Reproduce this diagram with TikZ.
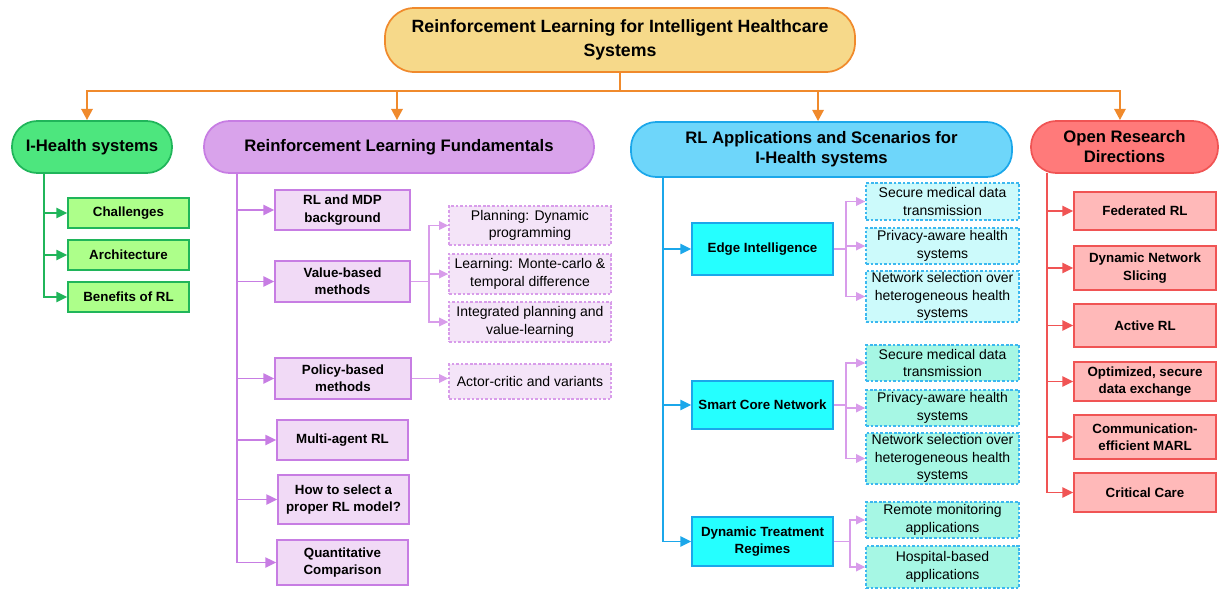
\documentclass[tikz,border=0pt]{standalone}
\usepackage{fontspec}
\setmainfont{Liberation Sans}
\usetikzlibrary{arrows.meta}
\definecolor{rootf}{HTML}{F6D98A}
\definecolor{orng}{HTML}{F08A2C}
\definecolor{ghf}{HTML}{4DE67E}
\definecolor{gdr}{HTML}{20B55A}
\definecolor{gbf}{HTML}{ADFF8A}
\definecolor{phf}{HTML}{D9A3EB}
\definecolor{pdr}{HTML}{C77DE3}
\definecolor{pbf}{HTML}{F1DAF6}
\definecolor{plf}{HTML}{F4E4F8}
\definecolor{pld}{HTML}{D89CEA}
\definecolor{bhf}{HTML}{6ED6FA}
\definecolor{bdr}{HTML}{1BA7EA}
\definecolor{bbf}{HTML}{25FFFF}
\definecolor{blf}{HTML}{CCFAFB}
\definecolor{bld}{HTML}{3BB8F0}
\definecolor{mlf}{HTML}{A6F7E4}
\definecolor{rhf}{HTML}{FF7A7A}
\definecolor{rdr}{HTML}{F05454}
\definecolor{rbf}{HTML}{FFB9B9}
\newcommand\bx[7]{\node[#1,minimum width={(#5-#3)*0.75pt},minimum height={(#6-#4)*0.75pt}] (#2) at ({(#3+#5)/2},{(#4+#6)/2}) {#7};}
\tikzset{
  hdr/.style={draw, line width=1.3pt, align=center, inner sep=0pt, font=\fontsize{12.5}{15}\selectfont\bfseries, rounded corners=19pt},
  bbox/.style={draw, line width=1.3pt, align=center, inner sep=0pt, font=\fontsize{10}{13}\selectfont\bfseries},
  leaf/.style={draw, line width=1pt, dash pattern=on 2pt off 1.4pt, align=center, inner sep=0pt, font=\fontsize{10.5}{13}\selectfont},
  oarr/.style={draw=orng, line width=1.8pt, -{Triangle[length=8.5pt,width=8.5pt]}},
  carr/.style={line width=1.4pt, -{Triangle[length=8pt,width=7.5pt]}},
  larr/.style={draw=pld, line width=1.1pt, -{Triangle[length=7pt,width=6.5pt]}},
}
\begin{document}
\begin{tikzpicture}[x=0.75pt,y=-0.75pt]
\useasboundingbox (0,0) rectangle (1220,589);
% root
\bx{hdr, fill=rootf, draw=orng, rounded corners=22pt, font=\fontsize{13.3}{18}\selectfont\bfseries}{root}{385}{8}{855}{72}{Reinforcement Learning for Intelligent Healthcare\\Systems}
% headers
\bx{hdr, fill=ghf, draw=gdr}{ih}{12}{121}{172}{173}{I-Health systems}
\bx{hdr, fill=phf, draw=pdr}{rlf}{204}{121}{594}{173}{Reinforcement Learning Fundamentals}
\bx{hdr, fill=bhf, draw=bdr}{app}{631}{122}{1012}{177}{RL Applications and Scenarios for\\I-Health systems}
\bx{hdr, fill=rhf, draw=rdr}{ord}{1031}{121}{1218}{173}{Open Research\\Directions}
% root connectors
\coordinate (rj) at (620,91);
\draw[oarr] (root.south) -- (rj) -| ([xshift=-3.75pt]ih.north);
\draw[oarr] (rj) -| ([xshift=-1.5pt]rlf.north);
\draw[oarr] (rj) -| ([xshift=-2.6pt]app.north);
\draw[oarr] (rj) -| ([xshift=-3.4pt]ord.north);
% green
\bx{bbox, fill=gbf, draw=gdr}{ch}{68}{198}{189}{228}{Challenges}
\bx{bbox, fill=gbf, draw=gdr}{ar}{68}{240}{189}{270}{Architecture}
\bx{bbox, fill=gbf, draw=gdr}{bf}{68}{282}{189}{312}{Benefits of RL}
\coordinate (gt) at (44,173);
\foreach \n in {ch,ar,bf} \draw[carr, draw=gdr] (gt) |- (\n.west);
% purple
\bx{bbox, fill=pbf, draw=pdr}{mdp}{275}{190}{410}{230}{RL and MDP\\background}
\bx{bbox, fill=pbf, draw=pdr}{vb}{275}{261}{410}{302}{Value-based\\methods}
\bx{bbox, fill=pbf, draw=pdr}{pb}{275}{358}{411}{399}{Policy-based\\methods}
\bx{bbox, fill=pbf, draw=pdr}{ma}{277}{420}{408}{460}{Multi-agent RL}
\bx{bbox, fill=pbf, draw=pdr}{hs}{278}{475}{409}{524}{How to select a\\proper RL model?}
\bx{bbox, fill=pbf, draw=pdr}{qc}{277}{540}{408}{585}{Quantitative\\Comparison}
\coordinate (pt) at (237,173);
\foreach \n in {mdp,vb,pb,ma,hs,qc} \draw[carr, draw=pdr] (pt) |- (\n.west);
\bx{leaf, fill=plf, draw=pld}{pl}{449}{206}{611}{245}{Planning: Dynamic\\programming}
\bx{leaf, fill=plf, draw=pld}{lm}{449}{254}{611}{294}{Learning: Monte-carlo \&\\temporal difference}
\bx{leaf, fill=plf, draw=pld}{ip}{449}{302}{611}{342}{Integrated planning and\\value-learning}
\bx{leaf, fill=plf, draw=pld}{ac}{449}{364}{611}{399}{Actor-critic and variants}
\coordinate (vj) at (429,281.5);
\draw[larr] (vb.east) -- (vj) |- (pl.west);
\draw[larr] (vj) |- (lm.west);
\draw[larr] (vj) |- (ip.west);
\draw[larr] (pb.east) -- (pb.east -| ac.west);
% blue
\bx{bbox, fill=bbf, draw=bdr}{ei}{692}{223}{833}{275}{Edge Intelligence}
\bx{bbox, fill=bbf, draw=bdr}{sc}{692}{381}{833}{429}{Smart Core Network}
\bx{bbox, fill=bbf, draw=bdr}{dt}{692}{517}{833}{566}{Dynamic Treatment\\Regimes}
\coordinate (bt) at (663,177);
\foreach \n in {ei,sc,dt} \draw[carr, draw=bdr] (bt) |- (\n.west);
\bx{leaf, fill=blf, draw=bld}{e1}{866}{183}{1019}{220}{Secure medical data\\transmission}
\bx{leaf, fill=blf, draw=bld}{e2}{866}{228}{1019}{264}{Privacy-aware health\\systems}
\bx{leaf, fill=blf, draw=bld}{e3}{866}{271}{1019}{322}{Network selection over\\heterogeneous health\\systems}
\bx{leaf, fill=mlf, draw=bld}{s1}{866}{345}{1019}{381}{Secure medical data\\transmission}
\bx{leaf, fill=mlf, draw=bld}{s2}{866}{390}{1019}{426}{Privacy-aware health\\systems}
\bx{leaf, fill=mlf, draw=bld}{s3}{866}{433}{1019}{484}{Network selection over\\heterogeneous health\\systems}
\bx{leaf, fill=mlf, draw=bld}{d1}{866}{502}{1019}{538}{Remote monitoring\\applications}
\bx{leaf, fill=mlf, draw=bld}{d2}{866}{546}{1019}{588}{Hospital-based\\applications}
\coordinate (ej) at (846,249);
\draw[larr] (ei.east) -- (ej) |- (e1.west);
\draw[larr] (ej) |- (e2.west);
\draw[larr] (ej) |- (e3.west);
\coordinate (sj) at (846,405);
\draw[larr] (sc.east) -- (sj) |- (s1.west);
\draw[larr] (sj) |- (s2.west);
\draw[larr] (sj) |- (s3.west);
\coordinate (dj) at (850,541.5);
\draw[larr] (dt.east) -- (dj) |- (d1.west);
\draw[larr] (dj) |- (d2.west);
% red
\bx{bbox, fill=rbf, draw=rdr}{fr}{1074}{192}{1216}{230}{Federated RL}
\bx{bbox, fill=rbf, draw=rdr}{dns}{1074}{246}{1216}{290}{Dynamic Network\\Slicing}
\bx{bbox, fill=rbf, draw=rdr}{arl}{1074}{304}{1216}{347}{Active RL}
\bx{bbox, fill=rbf, draw=rdr}{opt}{1074}{362}{1216}{401}{Optimized, secure\\data exchange}
\bx{bbox, fill=rbf, draw=rdr}{cem}{1074}{415}{1216}{459}{Communication-\\efficient MARL}
\bx{bbox, fill=rbf, draw=rdr}{cc}{1074}{473}{1216}{512}{Critical Care}
\coordinate (rt) at (1047,173);
\foreach \n in {fr,dns,arl,opt,cem,cc} \draw[carr, draw=rdr] (rt) |- (\n.west);
\end{tikzpicture}
\end{document}
